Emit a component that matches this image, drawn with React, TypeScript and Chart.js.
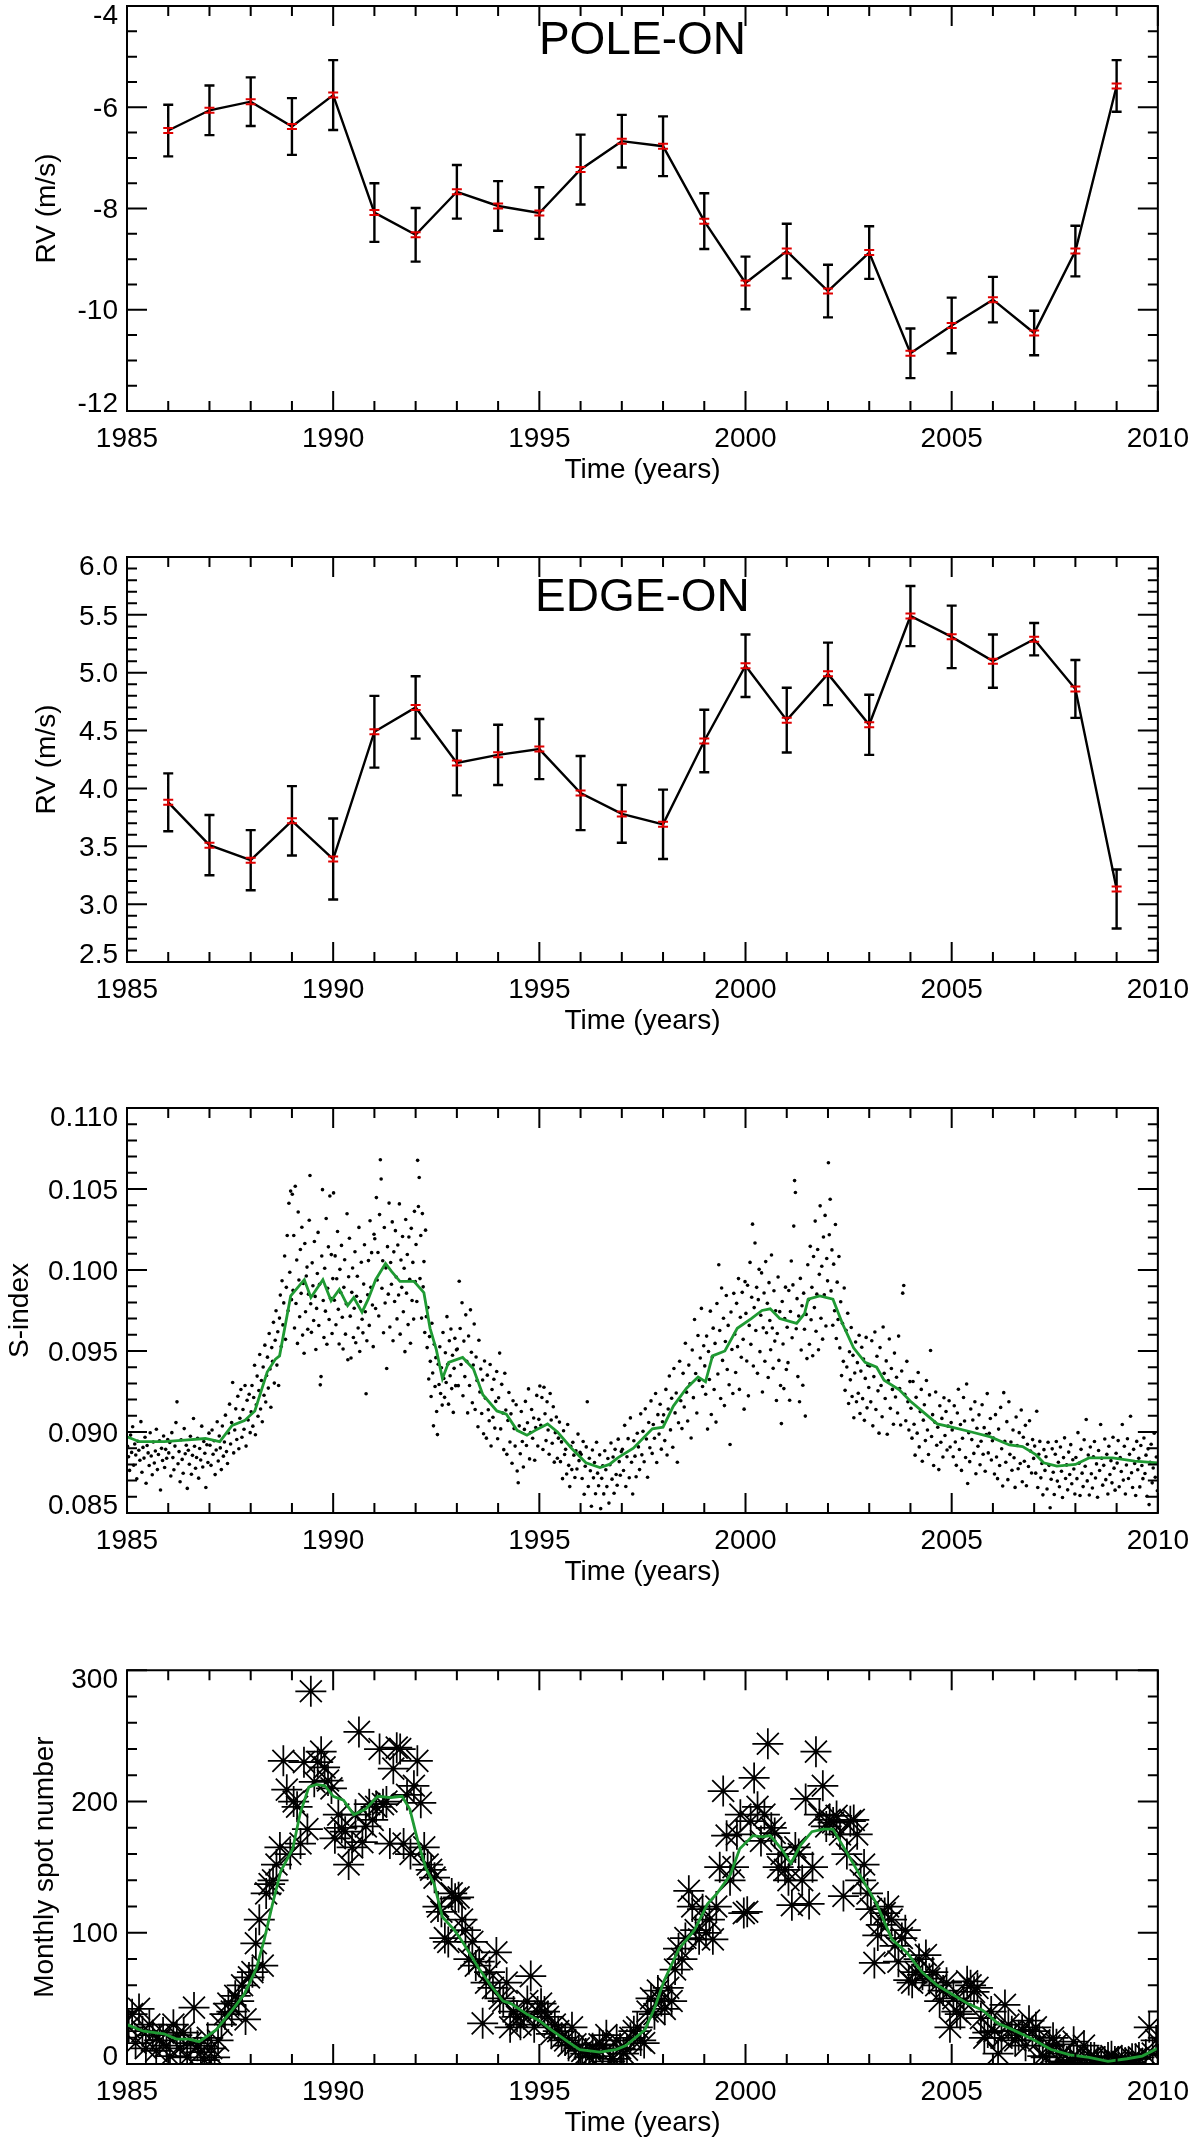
import { useEffect, useRef } from "react"
import { Chart, registerables } from "chart.js"

Chart.register(...registerables)

const FONT = "'Liberation Sans', Arial, Helvetica, sans-serif"
const GREEN = "#1f9a33"

// shared time axis
const timeTicks = [1985, 1990, 1995, 2000, 2005, 2010]

// yearly RV means (panels 1 and 2)
const rvYears = [
  1986, 1987, 1988, 1989, 1990, 1991, 1992, 1993, 1994, 1995, 1996, 1997,
  1998, 1999, 2000, 2001, 2002, 2003, 2004, 2005, 2006, 2007, 2008, 2009,
]
const poleRv = [
  -6.46, -6.06, -5.89, -6.38, -5.76, -8.08, -8.52, -7.67, -7.95, -8.09, -7.23, -6.67,
  -6.77, -8.25, -9.47, -8.84, -9.63, -8.87, -10.86, -10.31, -9.8, -10.46, -8.84, -5.58,
]
const poleErr = [
  0.51, 0.49, 0.48, 0.56, 0.69, 0.58, 0.53, 0.53, 0.49, 0.51, 0.69, 0.52,
  0.59, 0.55, 0.52, 0.54, 0.52, 0.52, 0.49, 0.55, 0.45, 0.44, 0.5, 0.51,
]
const edgeRv = [
  3.88, 3.51, 3.38, 3.72, 3.39, 4.49, 4.7, 4.22, 4.29, 4.34, 3.96, 3.78,
  3.69, 4.41, 5.06, 4.59, 4.99, 4.55, 5.49, 5.31, 5.1, 5.29, 4.86, 3.13,
]
const edgeErrUp = [
  0.25, 0.26, 0.26, 0.3, 0.35, 0.31, 0.27, 0.28, 0.26, 0.26, 0.32, 0.25,
  0.3, 0.27, 0.27, 0.28, 0.27, 0.26, 0.26, 0.27, 0.23, 0.14, 0.25, 0.17,
]
const edgeErrDown = [
  0.25, 0.26, 0.26, 0.3, 0.35, 0.31, 0.27, 0.28, 0.26, 0.26, 0.32, 0.25,
  0.3, 0.27, 0.27, 0.28, 0.27, 0.26, 0.26, 0.27, 0.23, 0.14, 0.25, 0.34,
]
const poleTicks = [-12, -10, -8, -6, -4]
const poleTickLabels = ["-12", "-10", "-8", "-6", "-4"]
const edgeTicks = [2.5, 3, 3.5, 4, 4.5, 5, 5.5, 6]
const edgeTickLabels = ["2.5", "3.0", "3.5", "4.0", "4.5", "5.0", "5.5", "6.0"]

// S-index observations, one row per year, in time order (units of 1e-5)
const sIndexYears = [
  1985, 1986, 1987, 1988, 1989, 1990, 1991, 1992, 1993, 1994, 1995, 1996, 1997,
  1998, 1999, 2000, 2001, 2002, 2003, 2004, 2005, 2006, 2007, 2008, 2009,
]
const sIndexRows = [
  [8912, 8847, 8763, 8981, 8874, 9032, 8795, 8926, 8858, 8711, 8943, 8887, 8826, 9064, 8752, 8905, 8839, 8968, 8684, 8917,
    8871, 8793, 8995, 8852, 8736, 8938, 8809, 8883, 9017, 8768, 8861, 8946, 8642, 8899, 8824, 8975, 8781, 8893, 8838, 8954],
  [8871, 8935, 8728, 8996, 8842, 8767, 8913, 9058, 9186, 8804, 8879, 8693, 8952, 8831, 8745, 9021, 8866, 8918, 8652, 8887,
    8801, 8974, 8739, 8856, 9083, 8912, 8776, 8843, 8961, 8715, 8898, 8827, 9036, 8784, 8941, 8869, 8657, 8921, 8812, 8993],
  [8918, 8794, 9012, 8863, 8946, 8737, 8889, 9063, 8821, 8975, 8902, 8768, 9037, 8851, 8938, 9104, 8879, 8806, 8994, 9172,
    8926, 9058, 9306, 8871, 9012, 9143, 8954, 9221, 8897, 9085, 9262, 8968, 9139, 9017, 9287, 8913, 9196, 9074, 9233, 8996],
  [9124, 9287, 9036, 9213, 9412, 8983, 9168, 9345, 9097, 9256, 9478, 9142, 9318, 9063, 9401, 9227, 9536, 9185, 9349, 9462,
    9271, 9608, 9389, 9153, 9521, 9436, 9677, 9302, 9566, 9748, 9413, 9619, 9287, 9703, 9845, 9528, 9934, 9661, 9797, 10086,
    9572, 9893, 10213, 9748, 10412, 9986, 10487, 9817],
  [10468, 9874, 10213, 9642, 10517, 9793, 10062, 9547, 10358, 9938, 9711, 10127, 9856, 10264, 9598, 9917, 9486, 10164, 9742, 9963,
    10018, 9634, 9851, 10307, 10583, 9792, 9615, 10044, 9903, 9688, 10176, 9837, 9509, 9763, 9978, 10232, 9657, 9912, 9291, 9342,
    10086, 10496, 9812, 9583, 10011, 9746, 10318, 9542, 9887, 10143, 9694, 10457, 9826, 10095, 9608, 9947],
  [10476, 9813, 10087, 9662, 9946, 10238, 9757, 9543, 10004, 9861, 10152, 9708, 9512, 9893, 10063, 9604, 9791, 10347, 9446, 9958,
    10196, 9715, 9457, 9862, 10012, 9583, 9764, 10113, 9551, 9838, 9961, 9642, 10263, 9497, 9806, 10048, 9696, 9612, 9913, 10156,
    9742, 9236, 9563, 9847, 10058, 9658, 10304, 9893, 10107, 9784, 9527, 10221],
  [10193, 9762, 10447, 9938, 10108, 9716, 10342, 10681, 10562, 9887, 10057, 9613, 10262, 9796, 10013, 9392, 10144, 9851, 10413, 9648,
    10046, 9912, 10297, 9563, 10112, 9806, 10243, 9957, 9698, 10154, 9846, 10408, 9604, 10062, 9893, 10207, 9742, 10011, 9496, 10312,
    9857, 10096, 9663, 10204, 9943, 9548, 10257, 9812, 10047, 9697, 10362, 9928],
  [10157, 9806, 10677, 10392, 10571, 9947, 10213, 9703, 10348, 9896, 10052, 9614, 10246, 9712, 9521, 9768, 9327, 9589, 9436, 9219,
    9671, 9364, 9038, 9542, 9281, 9459, 9127, 8984, 9418, 9293, 9526, 9238, 9397, 9166, 9614, 9331, 9214, 9489, 9306, 9712,
    9418, 9172, 9563, 9347, 9636, 9268, 9474, 9121, 9393, 9578, 9286, 9507],
  [9512, 9286, 9931, 9639, 9417, 9798, 9224, 9561, 9342, 9723, 9436, 9118, 9593, 9287, 9754, 9492, 9181, 9414, 9667, 9139,
    9463, 9318, 9032, 9566, 9247, 9389, 9114, 9321, 8989, 9438, 9208, 8962, 9351, 9137, 9069, 9417, 8914, 9262, 9091, 9326,
    9024, 9189, 9373, 8958],
  [9211, 9487, 9019, 9294, 9117, 8891, 9363, 9136, 8862, 9071, 9244, 8938, 9112, 8807, 9193, 9021, 8913, 9168, 8759, 8687,
    9038, 8866, 9127, 8941, 8784, 9016, 9189, 8917, 9057, 9266, 8834, 8997, 9139, 8961, 9086, 8826, 9028, 9226, 8914, 9078],
  [9284, 9041, 9213, 8892, 9276, 9113, 8947, 9187, 9012, 8863, 9238, 9074, 8931, 9156, 8814, 8996, 9093, 8838, 8962, 9061,
    8817, 8939, 8712, 9008, 8861, 8893, 8741, 9046, 8794, 8663, 8911, 8768, 8936, 8857, 8719, 8884, 8772, 8987, 8823, 8874],
  [8862, 8713, 8941, 8616, 8789, 8908, 9187, 8664, 8838, 8761, 8542, 8889, 8717, 8812, 8619, 8937, 8746, 8668, 8859, 8527,
    8714, 8791, 8618, 8884, 8767, 8663, 8836, 8561, 8798, 8932, 8709, 8846, 8622, 8893, 8738, 8671, 8956, 8817, 8733, 8879],
  [8893, 8762, 9041, 8664, 8847, 8959, 8718, 9087, 8813, 8617, 8946, 8851, 8724, 8992, 8908, 8768, 9112, 8859, 9004, 8816,
    9143, 8957, 8721, 9059, 8903, 9192, 8868, 9046, 8961, 9238, 8812, 9107, 8987, 9171, 8894, 9063],
  [9106, 8947, 9263, 8858, 9142, 9346, 9013, 9208, 8906, 9392, 9118, 9241, 8813, 9057, 9437, 9193, 9021, 9362, 9154, 9548,
    9246, 9068, 9413, 9297, 8963, 9506, 9212, 9694, 9361, 9117, 9596, 9318, 9457, 9763, 9281, 9532],
  [9408, 9233, 9592, 9018, 9497, 9324, 9746, 9108, 9463, 9641, 9262, 9547, 9061, 9793, 9358, 10032, 9627, 9207, 9889, 9442,
    9702, 9163, 9559, 9843, 9386, 9658, 9292, 8923, 9741, 9509, 9238, 9856, 9604, 9367, 9794, 9527, 9947, 9263, 9708, 9461,
    9862, 9572, 9141, 9928],
  [9732, 9438, 9906, 9223, 9658, 10047, 9541, 9832, 10283, 9407, 9768, 10167, 9627, 9893, 9362, 9817, 10004, 9496, 9721, 9982,
    9247, 9643, 9858, 9437, 10052, 9613, 9794, 9336, 9922, 9688, 9508, 10093, 9642, 9393, 9872, 9561, 9748, 9194, 9608, 9957,
    9442, 9743, 9287, 9052, 9806, 9543, 9268, 9701, 9894, 9386],
  [9647, 9428, 9873, 9196, 9744, 10056, 9582, 9908, 10271, 10552, 10478, 9637, 9823, 9342, 9716, 9187, 9948, 9506, 9779, 9289,
    9857, 9634, 9098, 9726, 9453, 10032, 9817, 9542, 10146, 9693, 9893, 9471, 10083, 9768, 10302, 9622, 9851, 10127, 9508, 9973,
    10396, 9702, 10023, 9573, 10204, 9847, 10337, 9654, 10071, 9933],
  [10662, 10218, 10437, 9871, 10124, 9659, 10036, 9748, 10281, 9577, 9925, 9694, 10083, 9519, 9804, 9348, 9671, 9436, 9889, 9257,
    9628, 9401, 9733, 9176, 9495, 9322, 9645, 9219, 9473, 9088, 9364, 9556, 9187, 9428, 9239, 9597, 9114, 9376, 9523, 9206,
    9451, 9072, 9331, 9584, 9149, 9412, 9275],
  [9407, 9186, 9563, 9038, 9342, 9617, 9139, 9468, 9254, 8993, 9521, 9287, 9094, 9648, 9362, 9207, 9439, 8986, 9318, 9574,
    9146, 9392, 9263, 9048, 9487, 9216, 9338, 9117, 9592, 9268, 9043, 9377, 9857, 9904, 9233, 9069, 9436, 9187, 9012, 9311],
  [9147, 8962, 9312, 9048, 8857, 9214, 8993, 9367, 8908, 9126, 9263, 8819, 9073, 9168, 8947, 9318, 9012, 8861, 9229, 9503,
    8972, 9107, 8793, 9061, 9247, 8918, 9029, 8768, 9162, 8937, 9084, 8846, 9211, 8978, 9127, 8889, 9036, 9193, 8907, 9058],
  [9013, 8847, 9162, 8938, 8794, 9117, 9264, 8892, 9046, 8763, 8961, 9213, 9068, 8843, 9296, 8682, 8996, 8817, 9142, 8953,
    9074, 8868, 9187, 8742, 9023, 8912, 9106, 8798, 8943, 9168, 8863, 9027, 8758, 8984, 9237, 8871, 8992, 9083, 8827, 8946],
  [8963, 8741, 9107, 8846, 8712, 9018, 8793, 9152, 8897, 8667, 9243, 8942, 8813, 9064, 8706, 9187, 8862, 8938, 8764, 9012,
    8841, 8658, 9093, 8917, 8773, 8996, 8806, 9136, 8693, 8968, 8819, 9041, 8668, 8924, 8787, 9069, 8882, 8747, 8953, 8837],
  [8913, 8746, 9128, 8657, 8863, 8942, 8717, 8806, 8612, 8891, 8763, 8847, 8648, 8937, 8794, 8532, 8708, 8896, 8752, 8614,
    8863, 8941, 8697, 8813, 8662, 8907, 8758, 8596, 8842, 8964, 8713, 8797, 8643, 8876, 8738, 8922, 8681, 8829, 8772, 8617],
  [8843, 8712, 8996, 8807, 8608, 8893, 8746, 8663, 8952, 8789, 9077, 8698, 8858, 8611, 8907, 8742, 8654, 8847, 8941, 8716,
    8803, 8597, 8886, 8762, 9046, 8838, 8672, 8794, 8957, 8706, 8862, 8617, 8912, 8738, 8823, 8686, 8968, 8777, 8641, 8869],
  [8808, 8947, 8662, 8843, 8756, 9046, 8703, 8912, 8617, 8796, 8958, 8713, 8862, 9097, 8748, 8657, 8893, 8806, 8608, 8942,
    8767, 8838, 8661, 8917, 8793, 8712, 8963, 8744, 8857, 8603, 8896, 8552, 8813, 8924, 8686, 8778, 8992, 8721, 8846, 8637],
]

// running mean of the S-index (green)
const sSmoothYears = [
  1985.0, 1985.3, 1985.9, 1986.4, 1986.9, 1987.25, 1987.55, 1987.85, 1988.1, 1988.4, 1988.6, 1988.7,
  1988.97, 1989.3, 1989.46, 1989.75, 1989.95, 1990.15, 1990.35, 1990.5, 1990.7, 1990.85, 1991.03, 1991.27,
  1991.42, 1991.62, 1991.96, 1992.2, 1992.35, 1992.5, 1992.65, 1992.8, 1993.14, 1993.4, 1993.63, 1993.97,
  1994.2, 1994.46, 1994.7, 1994.9, 1995.2, 1995.44, 1995.78, 1996.13, 1996.47, 1996.7, 1996.9, 1997.28,
  1997.74, 1998.0, 1998.25, 1998.57, 1998.85, 1999.03, 1999.2, 1999.5, 1999.8, 2000.14, 2000.4, 2000.6,
  2000.83, 2001.24, 2001.43, 2001.52, 2001.8, 2002.12, 2002.35, 2002.62, 2002.9, 2003.18, 2003.36, 2003.73,
  2004.0, 2004.37, 2004.65, 2005.0, 2005.48, 2005.94, 2006.4, 2006.72, 2007.04, 2007.23, 2007.55, 2008.0,
  2008.33, 2008.9, 2009.44, 2010.0,
]
const sSmoothValues = [
  0.0897, 0.0894, 0.0894, 0.0895, 0.0896, 0.0894, 0.0904, 0.0907, 0.0913, 0.0937, 0.0945, 0.0947,
  0.0984, 0.0994, 0.0983, 0.0994, 0.0981, 0.0988, 0.0978, 0.0983, 0.0974, 0.0982, 0.0994, 0.1004,
  0.0999, 0.0993, 0.0993, 0.0986, 0.0964, 0.0951, 0.0933, 0.0943, 0.0946, 0.0939, 0.0923, 0.0913,
  0.0911, 0.0901, 0.0898, 0.0901, 0.0905, 0.09, 0.089, 0.0881, 0.0878, 0.088, 0.0884, 0.089,
  0.0902, 0.0903, 0.0916, 0.0927, 0.0934, 0.0931, 0.0947, 0.095, 0.0964, 0.097, 0.0975, 0.0976,
  0.097, 0.0967, 0.0973, 0.0982, 0.0984, 0.0982, 0.0967, 0.0952, 0.0943, 0.094, 0.0932, 0.0926,
  0.0919, 0.0911, 0.0905, 0.0903, 0.09, 0.0897, 0.0892, 0.0891, 0.0886, 0.0881, 0.0879, 0.088,
  0.0884, 0.0884, 0.0882, 0.0881,
]
const sTicks = [0.085, 0.09, 0.095, 0.1, 0.105, 0.11]
const sTickLabels = ["0.085", "0.090", "0.095", "0.100", "0.105", "0.110"]

// monthly sunspot numbers, one row per year (Jan..Dec)
const spotYears = [
  1985, 1986, 1987, 1988, 1989, 1990, 1991, 1992, 1993, 1994, 1995, 1996, 1997,
  1998, 1999, 2000, 2001, 2002, 2003, 2004, 2005, 2006, 2007, 2008, 2009,
]
const monthlySpots = [
  [28, 38, 16, 42, 25, 12, 30, 22, 10, 18, 24, 14],
  [6, 30, 22, 12, 24, 5, 16, 43, 14, 9, 3, 20],
  [12, 5, 18, 30, 38, 46, 40, 52, 48, 60, 34, 66],
  [70, 92, 110, 75, 130, 137, 140, 152, 165, 231, 209, 160],
  [200, 196, 168, 230, 179, 284, 215, 230, 238, 226, 216, 210],
  [172, 190, 180, 177, 152, 165, 190, 253, 169, 181, 198, 186],
  [196, 240, 198, 200, 168, 225, 241, 240, 168, 205, 160, 212],
  [231, 199, 165, 152, 148, 142, 120, 116, 96, 93, 130, 126],
  [127, 110, 102, 80, 93, 75, 78, 31, 62, 70, 58, 85],
  [50, 48, 62, 28, 40, 36, 30, 38, 48, 67, 28, 40],
  [46, 40, 36, 23, 30, 25, 20, 18, 14, 28, 15, 12],
  [10, 8, 5, 12, 6, 15, 14, 22, 2, 4, 18, 12],
  [8, 11, 20, 25, 28, 18, 16, 40, 50, 38, 56, 48],
  [42, 58, 48, 72, 88, 80, 96, 132, 120, 102, 95, 118],
  [100, 110, 95, 120, 150, 208, 174, 140, 150, 175, 190, 115],
  [116, 185, 218, 196, 170, 190, 244, 180, 176, 150, 160, 148],
  [140, 121, 165, 160, 140, 202, 122, 150, 238, 190, 212, 181],
  [186, 184, 189, 175, 128, 160, 185, 186, 175, 140, 152, 130],
  [118, 77, 98, 106, 115, 120, 110, 90, 78, 96, 102, 64],
  [62, 70, 80, 68, 83, 65, 70, 60, 48, 56, 62, 28],
  [50, 40, 38, 48, 63, 60, 55, 58, 35, 20, 24, 40],
  [25, 8, 20, 45, 30, 25, 18, 22, 26, 14, 33, 25],
  [28, 18, 6, 5, 14, 20, 15, 2, 8, 1, 3, 17],
  [5, 3, 14, 4, 5, 5, 1, 0, 2, 5, 6, 2],
  [2, 2, 1, 1, 4, 4, 5, 0, 7, 28, 8, 18],
]

// smoothed sunspot number (green)
const spotSmoothYears = [
  1985.0, 1985.4, 1985.9, 1986.2, 1986.5, 1986.75, 1987.16, 1987.55, 1987.84, 1988.14, 1988.33, 1988.53,
  1988.73, 1989.02, 1989.2, 1989.41, 1989.6, 1989.8, 1990.0, 1990.25, 1990.5, 1990.78, 1991.08, 1991.4,
  1991.67, 1991.86, 1992.06, 1992.25, 1992.45, 1992.65, 1992.94, 1993.14, 1993.53, 1993.82, 1994.12, 1994.31,
  1994.7, 1995.0, 1995.29, 1995.69, 1995.98, 1996.47, 1996.86, 1997.1, 1997.56, 1997.8, 1998.02, 1998.39,
  1998.76, 1999.08, 1999.31, 1999.63, 1999.86, 2000.18, 2000.41, 2000.6, 2000.87, 2001.1, 2001.34, 2001.61,
  2001.89, 2002.12, 2002.44, 2002.81, 2003.18, 2003.55, 2003.91, 2004.28, 2004.65, 2005.02, 2005.39, 2005.75,
  2006.12, 2006.49, 2006.95, 2007.41, 2007.87, 2008.33, 2008.79, 2009.25, 2009.62, 2010.0,
]
const spotSmoothValues = [
  30, 25, 23, 19, 19, 17, 26, 41, 53, 73, 95, 122,
  147, 164, 191, 211, 213, 212, 204, 201, 190, 194, 204, 203,
  204, 194, 169, 149, 137, 112, 102, 93, 73, 60, 48, 46,
  38, 33, 26, 17, 11, 9, 11, 14, 26, 43, 63, 88,
  102, 122, 130, 144, 164, 174, 173, 174, 164, 153, 167, 177,
  179, 179, 162, 142, 122, 95, 85, 70, 60, 53, 46, 41,
  31, 26, 19, 11, 7, 5, 2, 4, 6, 12,
]
const spotTicks = [0, 100, 200, 300]
const spotTickLabels = ["0", "100", "200", "300"]

type Frame = {
  yMin: number
  yMax: number
  yMinor: number
  yTicks: number[]
  yLabels: string[]
  yTitle: string
  yTitleX: number
  title?: string
  titleDy?: number
}

// IDL-style box: inward major/minor ticks on all four sides, y labels, titles
function idlFramePlugin(f: Frame) {
  return {
    id: "idlFrame",
    afterDraw(chart: any) {
      const { ctx, chartArea: a, scales } = chart
      const xs = scales.x
      const ys = scales.y
      ctx.save()
      ctx.strokeStyle = "#000"
      ctx.lineWidth = 2
      ctx.strokeRect(a.left, a.top, a.right - a.left, a.bottom - a.top)

      ctx.beginPath()
      for (let yr = timeTicks[0]; yr <= timeTicks[timeTicks.length - 1]; yr++) {
        const px = xs.getPixelForValue(yr)
        const len = timeTicks.includes(yr) ? 20 : 10
        ctx.moveTo(px, a.bottom)
        ctx.lineTo(px, a.bottom - len)
        ctx.moveTo(px, a.top)
        ctx.lineTo(px, a.top + len)
      }
      const n = Math.round((f.yMax - f.yMin) / f.yMinor)
      for (let k = 0; k <= n; k++) {
        const v = f.yMin + k * f.yMinor
        const major = f.yTicks.some((t) => Math.abs(t - v) < f.yMinor / 10)
        const len = major ? 20 : 10
        const py = ys.getPixelForValue(v)
        ctx.moveTo(a.left, py)
        ctx.lineTo(a.left + len, py)
        ctx.moveTo(a.right, py)
        ctx.lineTo(a.right - len, py)
      }
      ctx.stroke()

      ctx.fillStyle = "#000"
      ctx.font = `28px ${FONT}`
      ctx.textAlign = "right"
      ctx.textBaseline = "middle"
      f.yTicks.forEach((t, i) => {
        let py = ys.getPixelForValue(t) + 2
        if (i === 0) py -= 9
        if (i === f.yTicks.length - 1) py += 8
        ctx.fillText(f.yLabels[i], a.left - 9, py)
      })

      ctx.save()
      ctx.translate(f.yTitleX, (a.top + a.bottom) / 2)
      ctx.rotate(-Math.PI / 2)
      ctx.textAlign = "center"
      ctx.fillText(f.yTitle, 0, 0)
      ctx.restore()

      if (f.title) {
        ctx.font = `46px ${FONT}`
        ctx.textAlign = "center"
        ctx.fillText(f.title, (a.left + a.right) / 2, a.top + (f.titleDy || 40))
      }
      ctx.restore()
    },
  }
}

// black error bars under the line, small red markers on top
function errorBarPlugin(years: number[], vals: number[], up: number[], down: number[]) {
  return {
    id: "errorBars",
    beforeDatasetsDraw(chart: any) {
      const { ctx, scales } = chart
      ctx.save()
      ctx.strokeStyle = "#000"
      ctx.lineWidth = 2.4
      ctx.beginPath()
      years.forEach((yr, i) => {
        const px = scales.x.getPixelForValue(yr)
        const hi = scales.y.getPixelForValue(vals[i] + up[i])
        const lo = scales.y.getPixelForValue(vals[i] - down[i])
        ctx.moveTo(px, hi)
        ctx.lineTo(px, lo)
        ctx.moveTo(px - 5, hi)
        ctx.lineTo(px + 5, hi)
        ctx.moveTo(px - 5, lo)
        ctx.lineTo(px + 5, lo)
      })
      ctx.stroke()
      ctx.restore()
    },
    afterDatasetsDraw(chart: any) {
      const { ctx, scales } = chart
      ctx.save()
      ctx.strokeStyle = "#e00000"
      ctx.lineWidth = 2
      ctx.beginPath()
      years.forEach((yr, i) => {
        const px = scales.x.getPixelForValue(yr)
        const py = scales.y.getPixelForValue(vals[i])
        ctx.moveTo(px - 5, py - 2.5)
        ctx.lineTo(px + 5, py - 2.5)
        ctx.moveTo(px - 5, py + 2.5)
        ctx.lineTo(px + 5, py + 2.5)
        ctx.moveTo(px, py - 2.5)
        ctx.lineTo(px, py + 2.5)
      })
      ctx.stroke()
      ctx.restore()
    },
  }
}

function makeConfig(datasets: any[], frame: Frame, extra: any[] = []): any {
  return {
    type: "scatter",
    data: { datasets },
    options: {
      responsive: false,
      animation: false,
      events: [],
      layout: { padding: { top: 6, right: 33, bottom: 0, left: 0 } },
      plugins: { legend: { display: false }, tooltip: { enabled: false } },
      scales: {
        x: {
          type: "linear",
          min: 1985,
          max: 2010,
          afterFit: (s: any) => {
            s.height = 76
          },
          grid: { display: false, drawTicks: false },
          border: { display: false },
          ticks: {
            stepSize: 5,
            padding: 11,
            autoSkip: false,
            maxRotation: 0,
            color: "#000",
            font: { family: FONT, size: 28 },
            callback: (v: number) => (timeTicks.includes(v) ? String(v) : ""),
          },
          title: {
            display: true,
            text: "Time (years)",
            color: "#000",
            font: { family: FONT, size: 28 },
            padding: { top: 0, bottom: 0 },
          },
        },
        y: {
          type: "linear",
          min: frame.yMin,
          max: frame.yMax,
          afterFit: (s: any) => {
            s.width = 127
          },
          grid: { display: false, drawTicks: false },
          border: { display: false },
          ticks: { display: false },
        },
      },
    },
    plugins: [...extra, idlFramePlugin(frame)],
  }
}

function buildPole() {
  return makeConfig(
    [
      {
        data: rvYears.map((t, i) => ({ x: t, y: poleRv[i] })),
        showLine: true,
        borderColor: "#000",
        borderWidth: 2.4,
        pointRadius: 0,
      },
    ],
    {
      yMin: -12, yMax: -4, yMinor: 0.5, yTicks: poleTicks, yLabels: poleTickLabels,
      yTitle: "RV (m/s)", yTitleX: 47, title: "POLE-ON", titleDy: 35,
    },
    [errorBarPlugin(rvYears, poleRv, poleErr, poleErr)],
  )
}

function buildEdge() {
  return makeConfig(
    [
      {
        data: rvYears.map((t, i) => ({ x: t, y: edgeRv[i] })),
        showLine: true,
        borderColor: "#000",
        borderWidth: 2.4,
        pointRadius: 0,
      },
    ],
    {
      yMin: 2.5, yMax: 6, yMinor: 0.1, yTicks: edgeTicks, yLabels: edgeTickLabels,
      yTitle: "RV (m/s)", yTitleX: 47, title: "EDGE-ON", titleDy: 41,
    },
    [errorBarPlugin(rvYears, edgeRv, edgeErrUp, edgeErrDown)],
  )
}

function buildSIndex() {
  // observations of each year are spread through that year in order
  const dots: { x: number; y: number }[] = []
  sIndexYears.forEach((yr, r) => {
    const row = sIndexRows[r]
    row.forEach((s, i) => dots.push({ x: yr + (i + 0.5) / row.length, y: s / 1e5 }))
  })
  return makeConfig(
    [
      {
        data: sSmoothYears.map((t, i) => ({ x: t, y: sSmoothValues[i] })),
        showLine: true,
        borderColor: GREEN,
        borderWidth: 2.8,
        pointRadius: 0,
        clip: 0,
      },
      {
        data: dots,
        pointRadius: 1.8,
        pointStyle: "circle",
        backgroundColor: "#000",
        borderWidth: 0,
        clip: 0,
      },
    ],
    {
      yMin: 0.085, yMax: 0.11, yMinor: 0.001, yTicks: sTicks, yLabels: sTickLabels,
      yTitle: "S-index", yTitleX: 20,
    },
  )
}

function buildSpots() {
  const stars: { x: number; y: number }[] = []
  spotYears.forEach((yr, r) => {
    monthlySpots[r].forEach((v, m) => stars.push({ x: yr + (m + 0.5) / 12, y: v }))
  })
  return makeConfig(
    [
      {
        data: spotSmoothYears.map((t, i) => ({ x: t, y: spotSmoothValues[i] })),
        showLine: true,
        borderColor: GREEN,
        borderWidth: 2.8,
        pointRadius: 0,
        clip: 0,
      },
      {
        data: stars,
        pointStyle: "star",
        pointRadius: 15.5,
        borderColor: "#000",
        borderWidth: 1.75,
        backgroundColor: "rgba(0,0,0,0)",
        clip: 0,
      },
    ],
    {
      yMin: 0, yMax: 300, yMinor: 20, yTicks: spotTicks, yLabels: spotTickLabels,
      yTitle: "Monthly spot number", yTitleX: 45,
    },
  )
}

function Panel({ top, build }: { top: number; build: () => any }) {
  const canvasRef = useRef<HTMLCanvasElement>(null)

  useEffect(() => {
    const canvas = canvasRef.current
    if (!canvas) return
    const chart = new Chart(canvas, build())
    return () => {
      chart.destroy()
    }
  }, [build])

  return (
    <canvas
      ref={canvasRef}
      width={1200}
      height={487}
      style={{ position: "absolute", left: 0, top, width: 1200, height: 487 }}
    />
  )
}

export default function App() {
  return (
    <div
      style={{
        position: "absolute",
        left: 0,
        top: 0,
        width: 1200,
        height: 2140,
        background: "#fff",
        overflow: "hidden",
      }}
    >
      <Panel top={0} build={buildPole} />
      <Panel top={551} build={buildEdge} />
      <Panel top={1102} build={buildSIndex} />
      <Panel top={1653} build={buildSpots} />
    </div>
  )
}
